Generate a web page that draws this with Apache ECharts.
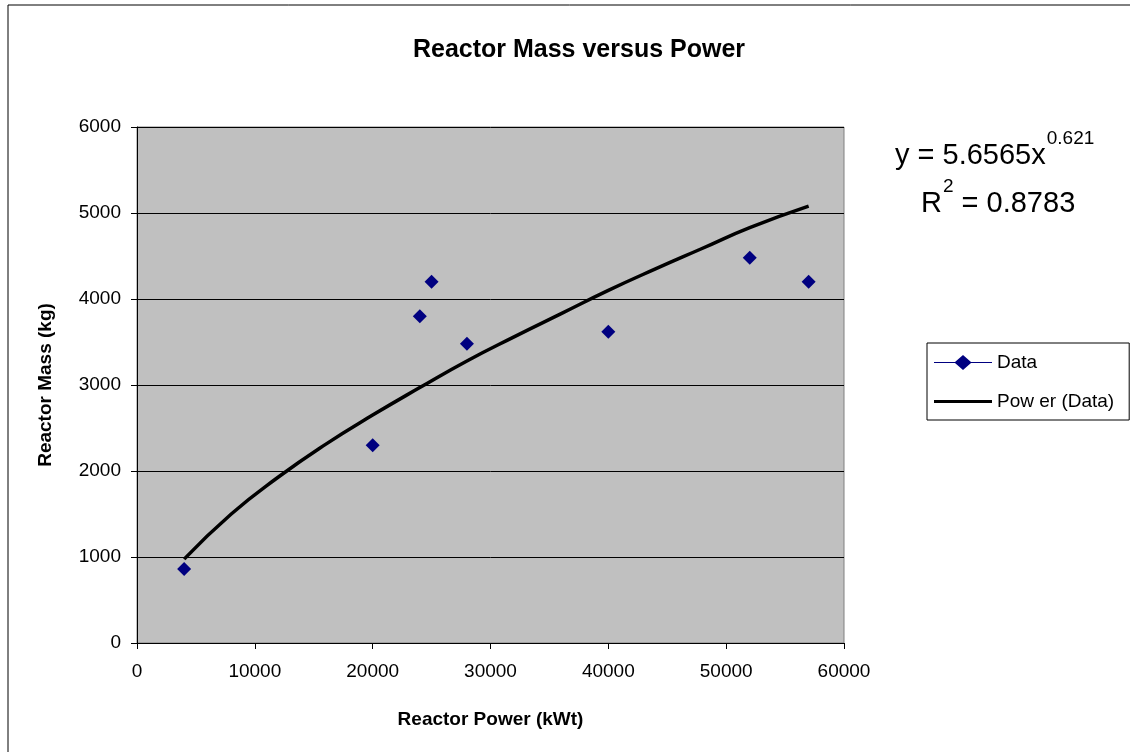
<!DOCTYPE html>
<html>
<head>
<meta charset="utf-8">
<script src="https://cdn.jsdelivr.net/npm/echarts@6/dist/echarts.min.js"></script>
<style>
  html, body { margin: 0; padding: 0; background: #fff; }
  #chart { width: 1130px; height: 752px; }
</style>
</head>
<body>
<div id="chart"></div>
<script>
// 数据点 (kWt, kg)
const powerKWt = [4000, 20000, 24000, 25000, 28000, 40000, 52000, 57000];
const massKg = [860, 2300, 3800, 4200, 3480, 3620, 4480, 4200];

// 趋势线 (读自图中)
const trendPower = [4000, 8000, 12000, 16000, 20000, 24000, 28000, 32000, 36000, 40000, 44000, 48000, 52000, 57000];
const trendMass = [975, 1500, 1930, 2310, 2650, 2970, 3280, 3560, 3830, 4100, 4350, 4590, 4830, 5080];

const xTicks = [0, 10000, 20000, 30000, 40000, 50000, 60000];
const yTicks = [0, 1000, 2000, 3000, 4000, 5000, 6000];

const font = 'Arial, "Liberation Sans", sans-serif';

document.addEventListener('DOMContentLoaded', function() {
    let chart = echarts.init(document.getElementById('chart'));

    const supRich = {
        n: { fontFamily: font, fontSize: 29, color: '#000', verticalAlign: 'bottom', height: 36 },
        s: { fontFamily: font, fontSize: 19, color: '#000', verticalAlign: 'top', height: 36, padding: [0, 0, 17, 1] }
    };

    const option = {
        animation: false,
        backgroundColor: '#fff',
        title: {
            text: 'Reactor Mass versus Power',
            left: 574,
            textAlign: 'center',
            top: 33,
            textStyle: {
                fontFamily: font,
                fontSize: 25,
                fontWeight: 'bold',
                color: '#000'
            }
        },
        grid: {
            left: 137,
            top: 127,
            width: 707,
            height: 516,
            show: true,
            backgroundColor: '#c0c0c0',
            borderColor: '#808080',
            borderWidth: 1
        },
        xAxis: {
            type: 'value',
            min: xTicks[0],
            max: xTicks[xTicks.length - 1],
            interval: 10000,
            name: 'Reactor Power (kWt)',
            nameLocation: 'middle',
            nameGap: 67,
            nameTextStyle: { fontFamily: font, fontSize: 19, fontWeight: 'bold', color: '#000' },
            axisLine: { show: true, lineStyle: { color: '#000', width: 1 } },
            axisTick: { show: true, length: 6, inside: false, lineStyle: { color: '#000' } },
            axisLabel: { fontFamily: font, fontSize: 19, color: '#000', margin: 19, formatter: v => String(v) },
            splitLine: { show: false }
        },
        yAxis: {
            type: 'value',
            min: yTicks[0],
            max: yTicks[yTicks.length - 1],
            interval: 1000,
            name: 'Reactor Mass (kg)',
            nameLocation: 'middle',
            nameGap: 82,
            nameTextStyle: { fontFamily: font, fontSize: 19, fontWeight: 'bold', color: '#000' },
            axisLine: { show: true, lineStyle: { color: '#000', width: 1 } },
            axisTick: { show: true, length: 6, lineStyle: { color: '#000' } },
            axisLabel: { fontFamily: font, fontSize: 19, color: '#000', margin: 16, formatter: v => String(v) },
            splitLine: { show: true, lineStyle: { color: '#000', width: 1 } }
        },
        legend: {
            left: 927,
            top: 343,
            orient: 'vertical',
            itemGap: 20,
            itemWidth: 58,
            itemHeight: 15,
            padding: [10, 15, 9, 7],
            borderColor: '#000',
            borderWidth: 1,
            backgroundColor: '#fff',
            textStyle: { fontFamily: font, fontSize: 19, color: '#000' },
            data: [
                { name: 'Data', icon: 'path://M0,7 L21,7 L29,0 L37,7 L58,7 L58,8 L37,8 L29,15 L21,8 L0,8 Z', itemStyle: { color: '#000080' } },
                { name: 'Pow er (Data)', icon: 'path://M0,6 L58,6 L58,9 L0,9 Z', itemStyle: { color: '#000' } }
            ]
        },
        graphic: [
            {
                type: 'rect',
                shape: { x: 8, y: 5, width: 1300, height: 1000 },
                style: { fill: 'none', stroke: '#000', lineWidth: 1 },
                silent: true,
                z: 100
            },
            {
                type: 'text',
                left: 895,
                top: 129,
                style: { text: '{n|y = 5.6565x}{s|0.621}', rich: supRich }
            },
            {
                type: 'text',
                left: 921,
                top: 177,
                style: { text: '{n|R}{s|2}{n| = 0.8783}', rich: supRich }
            }
        ],
        series: [
            {
                name: 'Pow er (Data)',
                type: 'line',
                data: trendPower.map((p, i) => [p, trendMass[i]]),
                smooth: true,
                showSymbol: false,
                symbol: 'none',
                lineStyle: { color: '#000', width: 3.5 },
                itemStyle: { color: '#000' },
                z: 2
            },
            {
                name: 'Data',
                type: 'scatter',
                data: powerKWt.map((p, i) => [p, massKg[i]]),
                symbol: 'diamond',
                symbolSize: 14,
                itemStyle: { color: '#000080', opacity: 1 },
                z: 3
            }
        ]
    };

    chart.setOption(option);
});
</script>
</body>
</html>
